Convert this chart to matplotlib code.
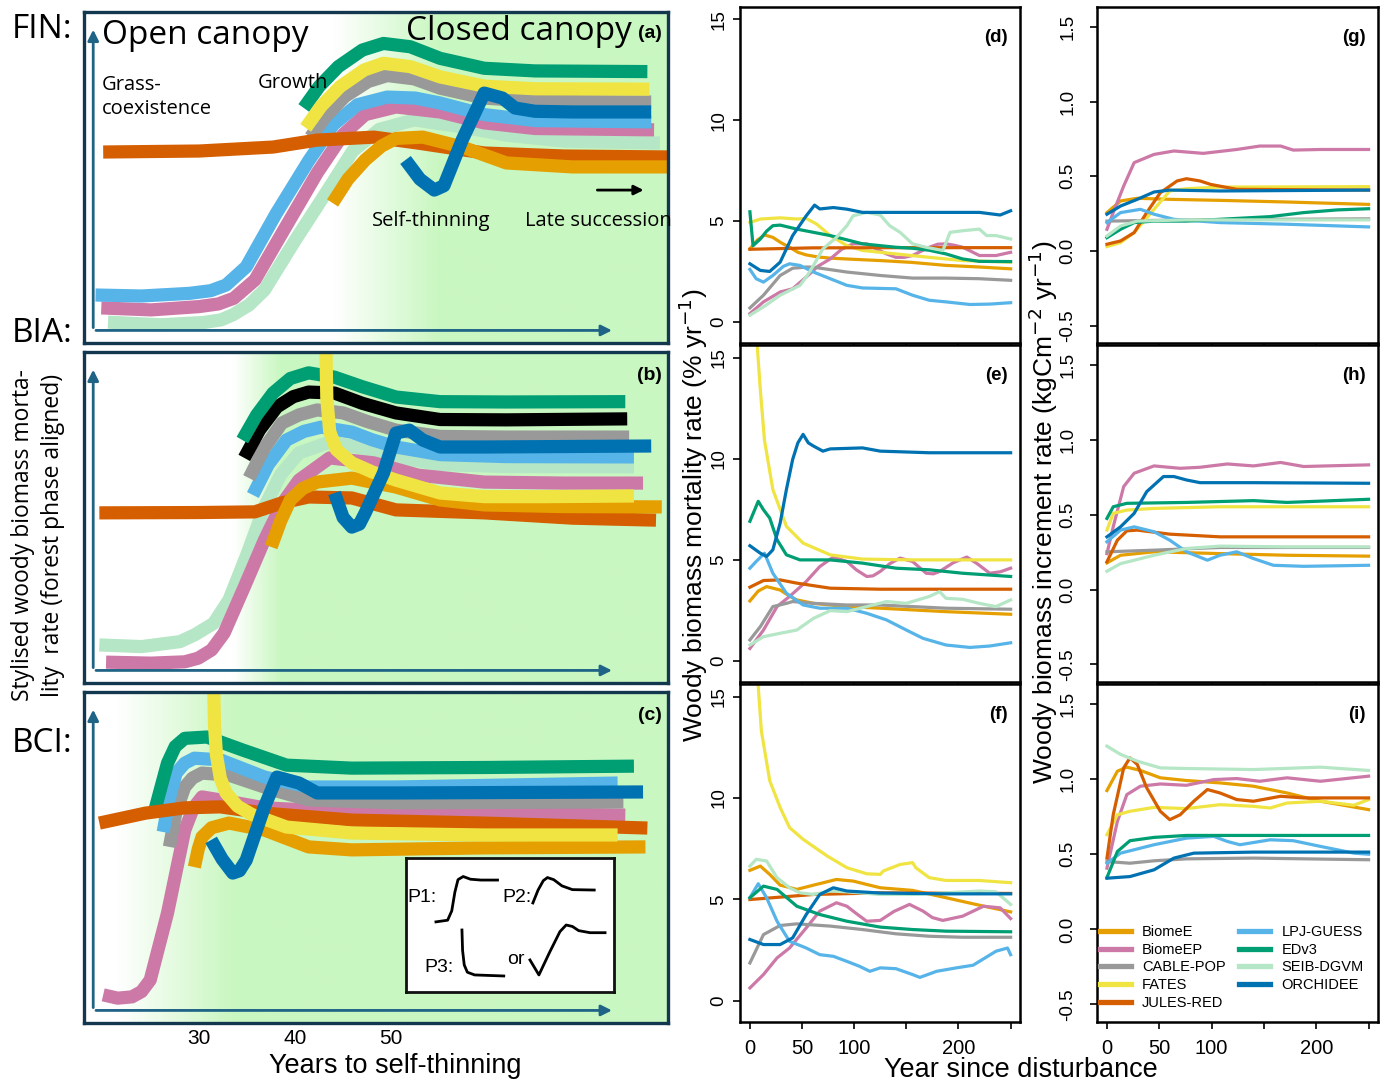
import matplotlib.pyplot as plt
import numpy as np
from matplotlib.colors import to_rgb

plt.rcParams['font.family'] = ['Liberation Sans', 'DejaVu Sans']

# ---------------- models and colours ----------------
models = ['BiomeE', 'BiomeEP', 'CABLE-POP', 'FATES', 'JULES-RED',
          'LPJ-GUESS', 'EDv3', 'SEIB-DGVM', 'ORCHIDEE']
colors = ['#E69F00', '#CC79A7', '#999999', '#F0E442', '#D55E00',
          '#56B4E9', '#009E73', '#B5E6C5', '#0072B2']
col = dict(zip(models, colors))
col['extra'] = '#000000'

# ---------------- stylised panels (years to self-thinning, relative rate 0-10) ----------------
fin_SEIB = [(20.5, 0.63), (26, 0.55), (30.5, 0.62), (32.3, 0.7), (33.5, 0.85), (35.2, 1.15), (36.8, 1.6),
            (40, 3.1), (43.2, 4.53), (46, 5.8), (48.75, 6.45), (52.4, 6.74), (57.4, 6.53), (62, 6.28),
            (68, 6.1), (78, 6.04)]
fin_BiomeEP = [(19.8, 1.06), (25, 1.0), (30, 1.1), (32, 1.18), (33.6, 1.35), (35.8, 1.9), (39, 3.5), (42.3, 5.14),
               (45, 6.3), (47.3, 6.9), (50.5, 7.13), (55.1, 6.98), (59.7, 6.65), (65, 6.48), (77.4, 6.44)]
fin_LPJ = [(19.2, 1.45), (24, 1.42), (29, 1.5), (31.2, 1.58), (32.8, 1.75), (34.9, 2.3), (38, 3.9), (41.4, 5.5),
           (44, 6.6), (46.5, 7.2), (49.6, 7.43), (52.5, 7.4), (55.1, 7.25), (59.7, 6.9), (65, 6.72), (77.1, 6.68)]
fin_CABLE = [(41.6, 6.22), (43.2, 6.85), (45.2, 7.45), (47.6, 7.9), (49.6, 8.08), (52.4, 7.98), (55.1, 7.7),
             (59.7, 7.4), (65, 7.3), (77.1, 7.28)]
fin_EDv3 = [(40.9, 7.1), (42.5, 7.75), (44.5, 8.35), (47, 8.85), (49.2, 9.05), (52, 8.95), (55.1, 8.6),
            (59.7, 8.3), (65, 8.22), (76.7, 8.2)]
fin_FATES = [(41.1, 6.5), (42.7, 7.15), (44.7, 7.75), (47.2, 8.25), (49.2, 8.45), (52, 8.35), (55.1, 8.04),
             (59.7, 7.76), (65, 7.68), (76.9, 7.67)]
fin_JULES = [(20, 5.77), (30, 5.8), (37.7, 5.92), (42.3, 6.13), (48.2, 6.22), (52.8, 6.04), (59.7, 5.74),
             (68, 5.65), (78.9, 5.62)]
fin_BiomeE = [(43.9, 4.23), (45.5, 4.95), (47.3, 5.53), (49, 5.95), (50.5, 6.18), (53.3, 6.22), (57.4, 5.92),
              (62, 5.44), (68.9, 5.32), (78.9, 5.32)]
fin_ORCHIDEE = [(51.5, 5.53), (53, 4.95), (54.5, 4.62), (55.5, 4.75), (57.4, 6.13), (59.7, 7.55), (61.6, 7.4),
                (62.9, 7.1), (65, 7.0), (68.9, 6.98), (77.1, 6.98)]

bia_SEIB = [(19.6, 1.15), (24, 1.1), (28, 1.25), (29.5, 1.45), (31.5, 1.8), (33.1, 2.51), (35, 3.9), (36.8, 5.32),
            (38.5, 6.3), (40.4, 6.95), (43.6, 7.28), (47, 7.1), (50.5, 6.83), (55.1, 6.6), (62, 6.54), (75.3, 6.53)]
bia_BiomeEP = [(20.3, 0.63), (25, 0.6), (28.5, 0.64), (29.9, 0.75), (31.3, 1.0), (32.6, 1.51), (34.7, 2.9),
               (36.8, 4.32), (38.6, 5.4), (40.4, 6.13), (43.6, 6.8), (48.2, 6.65), (52.8, 6.28), (59.7, 6.07),
               (68, 6.04), (76.25, 6.04)]
bia_LPJ = [(35.6, 5.68), (37.2, 6.6), (39.1, 7.34), (40.9, 7.6), (42.7, 7.73), (45.9, 7.58), (48, 7.35),
           (50.5, 7.13), (55.1, 6.9), (62, 6.84), (75.3, 6.83)]
bia_CABLE = [(35.2, 6.19), (36.8, 7.1), (38.6, 7.85), (40.4, 8.1), (42.3, 8.25), (45, 8.16), (47.5, 7.9),
             (50.5, 7.64), (55.1, 7.45), (62, 7.43), (74.8, 7.43)]
bia_extra = [(34.7, 6.8), (36.3, 7.65), (38.1, 8.34), (39.8, 8.65), (41.4, 8.79), (44.1, 8.76), (47, 8.45),
             (50.5, 8.16), (55.1, 7.96), (62, 7.95), (74.6, 7.98)]
bia_EDv3 = [(34.5, 7.34), (36, 8.1), (37.7, 8.76), (39.5, 9.2), (41.4, 9.37), (44.1, 9.24), (47, 8.95),
            (50.5, 8.64), (55.1, 8.5), (62, 8.49), (74.4, 8.5)]
bia_FATES = [(43.2, 10.3), (43.3, 8.6), (43.6, 7.6), (44.3, 7.05), (45.9, 6.65), (48, 6.38), (50.5, 6.13),
             (55.1, 5.74), (59.7, 5.63), (66, 5.63), (75.3, 5.65)]
bia_JULES = [(19.6, 5.14), (30, 5.15), (35.8, 5.17), (38.6, 5.44), (41.4, 5.62), (45.9, 5.59), (50.5, 5.23),
             (59.7, 5.14), (68.9, 4.98), (77.6, 4.92)]
bia_BiomeE = [(37.5, 4.11), (38.5, 4.9), (39.5, 5.53), (40.8, 5.88), (42.3, 6.07), (45.9, 6.19), (50.5, 5.92),
              (55.1, 5.53), (59.7, 5.38), (68, 5.33), (78.2, 5.32)]
bia_ORCHIDEE = [(44.1, 5.74), (45, 5.0), (45.9, 4.71), (46.7, 4.8), (47.3, 5.14), (49.2, 6.34), (50.5, 7.55),
                (51.9, 7.64), (53.3, 7.34), (55.1, 7.13), (59.7, 7.13), (77.1, 7.16)]

bci_BiomeEP = [(20, 0.85), (21.5, 0.75), (23, 0.79), (24, 0.95), (24.9, 1.3), (26.7, 3.32), (28.5, 5.83),
               (29.4, 6.5), (30.3, 6.83), (32.2, 6.74), (36.8, 6.5), (45.9, 6.37), (59.7, 6.34), (74.4, 6.28)]
bci_LPJ = [(26.25, 5.77), (26.9, 6.8), (27.6, 7.55), (28.5, 7.85), (29.5, 8.0), (32.2, 7.95), (36.8, 7.43),
           (41.4, 7.13), (50.5, 7.13), (73.6, 7.25)]
bci_CABLE = [(26.9, 5.32), (27.6, 6.4), (28.5, 7.13), (29.3, 7.4), (30.3, 7.55), (33.1, 7.49), (37.7, 7.04),
             (41.4, 6.74), (50.5, 6.65), (74.2, 6.68)]
bci_EDv3 = [(25.3, 6.34), (26, 7.1), (26.7, 7.85), (27.5, 8.35), (28.5, 8.6), (30.8, 8.64), (34.5, 8.25),
            (39.1, 7.79), (45.9, 7.7), (60, 7.72), (75.3, 7.76)]
bci_JULES = [(19.6, 6.04), (24.4, 6.34), (28.5, 6.5), (32.2, 6.53), (36.8, 6.34), (45.9, 6.13), (59.7, 6.04),
             (76.7, 5.89)]
bci_BiomeE = [(29.5, 4.71), (29.9, 5.25), (30.3, 5.62), (31.3, 5.9), (33.1, 6.04), (36.8, 5.83), (41.4, 5.32),
              (45.9, 5.23), (59.7, 5.29), (76.5, 5.32)]
bci_FATES = [(31.5, 10.3), (31.6, 9.0), (31.8, 8.1), (32.2, 7.4), (32.8, 6.95), (34, 6.55), (35.5, 6.3),
             (39.1, 5.92), (45.9, 5.74), (59.7, 5.68), (73.6, 5.68)]
bci_ORCHIDEE = [(31.25, 5.53), (32.4, 4.95), (33.5, 4.53), (34.2, 4.6), (34.9, 4.92), (36.8, 6.53), (38.1, 7.43),
                (40.4, 7.25), (42.3, 6.95), (50.5, 6.95), (76.25, 6.98)]

# inset pattern sketches (arbitrary units)
p1 = [(1.44, 3.37), (2.0, 3.45), (2.2, 3.9), (2.35, 4.8), (2.5, 5.4), (2.75, 5.55), (3.1, 5.42), (3.6, 5.38), (4.4, 5.38)]
p2 = [(6.1, 4.28), (6.35, 4.9), (6.6, 5.35), (6.8, 5.5), (7.1, 5.4), (7.5, 5.1), (8.0, 4.92), (9.05, 4.9)]
p3 = [(2.69, 2.98), (2.72, 2.0), (2.8, 1.3), (2.95, 0.95), (3.3, 0.82), (4.7, 0.77)]
p3b = [(5.96, 1.54), (6.39, 0.82), (6.9, 1.9), (7.4, 2.9), (7.7, 3.22), (8.0, 3.15), (8.3, 2.95), (8.85, 2.85), (9.57, 2.85)]

# ---------------- model output: year since disturbance vs rate ----------------
# (d) FIN mortality (% / yr)
d_BiomeE = [(0, 3.62), (7, 4.05), (14, 4.31), (22, 4.19), (30, 3.92), (38, 3.7), (46, 3.45), (54, 3.32), (65, 3.22),
            (77, 3.16), (100, 3.1), (125, 3.04), (155, 2.95), (188, 2.8), (220, 2.72), (250, 2.63)]
d_BiomeEP = [(0, 0.41), (13, 0.99), (29, 1.48), (41, 1.64), (54, 2.22), (65, 2.75), (77, 3.12), (88, 3.6), (99, 3.87),
             (112, 3.87), (122, 3.6), (131, 3.37), (140, 3.2), (148, 3.2), (156, 3.29), (164, 3.5), (172, 3.7),
             (180, 3.85), (188, 3.87), (196, 3.8), (204, 3.7), (212, 3.5), (220, 3.29), (236, 3.29), (250, 3.45)]
d_CABLE = [(0, 0.69), (13, 1.32), (29, 2.3), (41, 2.66), (55, 2.72), (61, 2.71), (93, 2.47), (125, 2.3), (156, 2.17),
           (188, 2.17), (220, 2.14), (250, 2.06)]
d_FATES = [(0, 4.93), (10, 5.1), (29, 5.16), (45, 5.1), (54, 5.13), (64, 4.85), (77, 4.28), (93, 3.78), (108, 3.54),
           (140, 3.37), (172, 3.2), (204, 3.04), (250, 2.96)]
d_JULES = [(0, 3.6), (60, 3.67), (150, 3.68), (250, 3.68)]
d_LPJ = [(0, 2.6), (6, 2.14), (13, 1.97), (22, 2.3), (32, 2.75), (38, 2.88), (48, 2.8), (61, 2.47), (77, 2.14),
         (93, 1.81), (108, 1.68), (140, 1.64), (156, 1.32), (172, 1.07), (188, 0.99), (211, 0.86), (230, 0.88), (250, 0.95)]
d_EDv3 = [(0, 5.46), (3, 3.78), (10, 4.11), (16, 4.5), (22, 4.77), (29, 4.8), (45, 4.6), (77, 4.28), (108, 3.87),
          (140, 3.7), (156, 3.65), (172, 3.55), (188, 3.37), (204, 3.12), (220, 3.0), (250, 2.99)]
d_SEIB = [(0, 0.33), (13, 0.74), (29, 1.32), (48, 1.81), (55, 2.3), (61, 2.8), (70, 3.62), (83, 4.19), (93, 4.77),
          (99, 5.26), (112, 5.43), (125, 5.3), (134, 4.77), (144, 4.44), (156, 3.87), (169, 3.7), (185, 3.54),
          (192, 4.44), (204, 4.52), (220, 4.6), (227, 4.28), (236, 4.28), (250, 4.11)]
d_ORCHIDEE = [(0, 2.88), (10, 2.55), (19, 2.5), (29, 2.96), (41, 4.28), (54, 5.26), (62, 5.79), (67, 5.6), (80, 5.67),
              (93, 5.59), (108, 5.43), (156, 5.43), (220, 5.43), (240, 5.3), (250, 5.51)]

# (e) BIA mortality
e_BiomeE = [(0, 2.96), (8, 3.45), (16, 3.67), (29, 3.5), (38, 3.2), (45, 3.01), (61, 2.84), (93, 2.68), (125, 2.6),
            (188, 2.43), (250, 2.3)]
e_BiomeEP = [(0, 0.61), (13, 1.52), (26, 2.68), (38, 3.18), (54, 3.92), (67, 4.66), (80, 5.13), (93, 4.91), (102, 4.5),
             (112, 4.17), (118, 4.2), (125, 4.42), (134, 4.8), (144, 5.08), (156, 4.91), (169, 4.33), (176, 4.3),
             (182, 4.42), (195, 4.85), (208, 5.13), (218, 4.8), (230, 4.33), (240, 4.4), (250, 4.58)]
e_CABLE = [(0, 1.03), (10, 1.69), (22, 2.68), (35, 2.84), (41, 2.93), (61, 2.84), (93, 2.76), (125, 2.76), (156, 2.68),
           (188, 2.6), (250, 2.55)]
e_FATES = [(4, 18.0), (7, 15.6), (10, 13.4), (14, 10.9), (22, 8.47), (35, 6.65), (51, 5.82), (77, 5.24), (108, 5.03),
           (156, 4.99), (250, 4.99)]
e_JULES = [(0, 3.64), (13, 3.97), (29, 4.0), (45, 3.84), (77, 3.59), (125, 3.54), (250, 3.54)]
e_LPJ = [(0, 4.58), (6, 4.91), (14, 5.32), (22, 4.33), (35, 3.34), (51, 2.76), (67, 2.6), (93, 2.6), (112, 2.35),
         (131, 2.02), (150, 1.52), (166, 1.11), (188, 0.78), (211, 0.66), (230, 0.73), (250, 0.89)]
e_EDv3 = [(0, 6.9), (8, 7.89), (13, 7.47), (19, 7.06), (26, 5.99), (35, 5.24), (48, 4.99), (77, 4.99), (108, 4.83),
          (140, 4.58), (172, 4.5), (204, 4.33), (250, 4.17)]
e_SEIB = [(0, 0.78), (13, 1.19), (29, 1.36), (45, 1.52), (61, 2.1), (77, 2.48), (93, 2.43), (112, 2.68), (131, 2.93),
          (150, 2.84), (172, 3.18), (182, 3.42), (188, 3.09), (204, 3.04), (220, 2.84), (236, 2.68), (250, 3.01)]
e_ORCHIDEE = [(0, 5.69), (10, 5.32), (16, 5.16), (22, 5.49), (29, 6.81), (35, 8.47), (41, 9.96), (46, 10.78),
              (51, 11.2), (56, 10.78), (61, 10.62), (70, 10.37), (77, 10.48), (108, 10.53), (125, 10.37),
              (172, 10.29), (250, 10.29)]

# (f) BCI mortality
f_BiomeE = [(0, 6.43), (10, 6.64), (19, 6.23), (29, 5.7), (45, 5.49), (61, 5.7), (83, 5.98), (99, 5.9), (125, 5.57),
            (156, 5.44), (188, 5.08), (220, 4.71), (250, 4.38)]
f_BiomeEP = [(0, 0.63), (13, 1.29), (26, 2.11), (38, 2.6), (54, 3.59), (67, 4.42), (83, 4.83), (93, 4.66), (102, 4.3),
             (112, 3.92), (125, 3.96), (138, 4.4), (153, 4.75), (166, 4.42), (175, 4.1), (185, 3.96), (204, 4.17),
             (224, 4.66), (240, 4.58), (250, 4.05)]
f_CABLE = [(0, 1.86), (13, 3.26), (29, 3.71), (45, 3.79), (77, 3.68), (108, 3.51), (140, 3.3), (172, 3.18),
           (204, 3.13), (250, 3.13)]
f_FATES = [(5, 17.0), (8, 15.5), (11, 13.3), (19, 10.85), (29, 9.53), (38, 8.54), (51, 7.96), (74, 7.14), (93, 6.56),
           (112, 6.26), (125, 6.23), (128, 6.4), (144, 6.72), (156, 6.81), (159, 6.56), (172, 6.07), (188, 5.93),
           (220, 5.93), (250, 5.82)]
f_JULES = [(0, 4.99), (61, 5.24), (125, 5.32), (250, 5.29)]
f_LPJ = [(0, 5.08), (8, 5.77), (16, 5.08), (26, 3.92), (38, 2.93), (54, 2.6), (67, 2.27), (80, 2.19), (93, 1.94),
         (105, 1.7), (115, 1.45), (125, 1.62), (140, 1.58), (156, 1.29), (163, 1.15), (179, 1.45), (198, 1.62),
         (214, 1.75), (236, 2.44), (247, 2.6), (250, 2.27)]
f_EDv3 = [(0, 5.08), (13, 5.65), (26, 5.49), (45, 4.66), (67, 4.25), (93, 3.92), (125, 3.63), (156, 3.51),
          (188, 3.43), (250, 3.4)]
f_SEIB = [(0, 6.64), (6, 6.97), (16, 6.89), (26, 6.07), (38, 5.57), (48, 5.32), (61, 5.24), (77, 5.41), (93, 5.37),
          (125, 5.24), (156, 5.24), (188, 5.32), (220, 5.41), (236, 5.37), (250, 4.75)]
f_ORCHIDEE = [(0, 3.02), (13, 2.77), (29, 2.77), (41, 3.1), (54, 4.25), (67, 5.24), (80, 5.57), (93, 5.41),
              (125, 5.31), (188, 5.27), (250, 5.27)]

# (g) FIN increment (kgC m-2 yr-1)
g_BiomeE = [(0, 0.257), (13, 0.335), (29, 0.353), (60, 0.346), (108, 0.339), (172, 0.328), (250, 0.312)]
g_BiomeEP = [(0, 0.145), (6, 0.257), (16, 0.435), (26, 0.592), (45, 0.647), (64, 0.67), (92, 0.654), (124, 0.68),
             (146, 0.703), (166, 0.703), (178, 0.676), (204, 0.68), (250, 0.68)]
g_CABLE = [(0, 0.2), (100, 0.21), (250, 0.215)]
g_FATES = [(0, 0.029), (13, 0.056), (26, 0.123), (45, 0.279), (60, 0.402), (76, 0.417), (108, 0.428), (250, 0.431)]
g_JULES = [(0, 0.045), (13, 0.067), (26, 0.123), (38, 0.257), (51, 0.39), (67, 0.469), (76, 0.484), (89, 0.469),
           (99, 0.446), (124, 0.413), (250, 0.408)]
g_LPJ = [(0, 0.19), (13, 0.257), (32, 0.279), (45, 0.246), (64, 0.212), (108, 0.19), (172, 0.179), (250, 0.161)]
g_EDv3 = [(0, 0.089), (13, 0.145), (26, 0.19), (45, 0.2), (76, 0.2), (108, 0.212), (156, 0.23), (188, 0.257),
          (220, 0.275), (250, 0.283)]
g_SEIB = [(0, 0.1), (13, 0.167), (29, 0.2), (76, 0.208), (250, 0.208)]
g_ORCHIDEE = [(0, 0.246), (13, 0.301), (29, 0.346), (45, 0.395), (60, 0.408), (108, 0.402), (250, 0.408)]

# (h) BIA increment
h_BiomeE = [(0, 0.179), (13, 0.23), (45, 0.253), (108, 0.241), (172, 0.23), (250, 0.224)]
h_BiomeEP = [(0, 0.241), (6, 0.42), (16, 0.689), (26, 0.778), (45, 0.827), (70, 0.811), (89, 0.818), (115, 0.84),
             (140, 0.827), (166, 0.85), (188, 0.823), (210, 0.827), (250, 0.834)]
h_CABLE = [(0, 0.253), (45, 0.264), (108, 0.282), (250, 0.282)]
h_FATES = [(0, 0.398), (6, 0.51), (19, 0.532), (45, 0.543), (108, 0.554), (250, 0.554)]
h_JULES = [(0, 0.186), (10, 0.331), (19, 0.393), (29, 0.398), (60, 0.371), (108, 0.353), (250, 0.353)]
h_LPJ = [(0, 0.32), (13, 0.398), (26, 0.42), (45, 0.387), (60, 0.331), (76, 0.253), (96, 0.197), (108, 0.23),
         (124, 0.253), (140, 0.208), (159, 0.163), (188, 0.156), (250, 0.163)]
h_EDv3 = [(0, 0.476), (6, 0.554), (19, 0.577), (76, 0.583), (140, 0.595), (172, 0.583), (250, 0.604)]
h_SEIB = [(0, 0.123), (13, 0.174), (45, 0.23), (76, 0.275), (108, 0.291), (172, 0.286), (250, 0.286)]
h_ORCHIDEE = [(0, 0.353), (13, 0.42), (26, 0.51), (38, 0.655), (54, 0.756), (64, 0.756), (76, 0.733), (89, 0.715),
              (140, 0.715), (250, 0.711)]

# (i) BCI increment
i_BiomeE = [(0, 0.925), (10, 1.054), (19, 1.081), (32, 1.059), (51, 1.01), (76, 0.992), (108, 0.976), (140, 0.954),
            (172, 0.909), (204, 0.854), (250, 0.798)]
i_BiomeEP = [(0, 0.408), (10, 0.72), (19, 0.898), (32, 0.954), (51, 0.969), (76, 0.96), (102, 0.998), (124, 1.005),
             (146, 0.987), (172, 1.01), (204, 0.987), (250, 1.021)]
i_CABLE = [(0, 0.452), (22, 0.441), (45, 0.457), (76, 0.47), (140, 0.475), (250, 0.464)]
i_FATES = [(0, 0.631), (10, 0.764), (22, 0.787), (45, 0.813), (76, 0.805), (108, 0.831), (140, 0.82), (156, 0.809),
           (172, 0.842), (204, 0.854), (236, 0.827), (250, 0.865)]
i_JULES = [(0, 0.475), (6, 0.764), (16, 1.076), (22, 1.143), (29, 1.099), (38, 0.943), (51, 0.787), (60, 0.731),
           (70, 0.764), (83, 0.854), (96, 0.932), (108, 0.909), (124, 0.865), (140, 0.854), (166, 0.887),
           (188, 0.876), (250, 0.876)]
i_LPJ = [(0, 0.441), (13, 0.508), (45, 0.564), (76, 0.608), (102, 0.62), (115, 0.586), (127, 0.564), (156, 0.597),
         (178, 0.591), (204, 0.553), (236, 0.508), (250, 0.501)]
i_EDv3 = [(0, 0.345), (10, 0.519), (22, 0.591), (45, 0.613), (76, 0.626), (250, 0.626)]
i_SEIB = [(0, 1.221), (13, 1.166), (29, 1.121), (51, 1.076), (76, 1.072), (140, 1.065), (204, 1.081), (250, 1.059)]
i_ORCHIDEE = [(0, 0.341), (22, 0.352), (45, 0.397), (64, 0.475), (83, 0.508), (140, 0.515), (250, 0.515)]

W, H = 1389, 1082
fig = plt.figure(figsize=(W / 100, H / 100), dpi=100)

def box(x0, y0, x1, y1):
    # pixel box (top-left origin) -> figure fraction rect
    return [x0 / W, 1 - y1 / H, (x1 - x0) / W, (y1 - y0) / H]

NAVY = '#12374e'
ARROW = '#1f6386'
GREEN = np.array(to_rgb('#c9f7c1'))
LFONT = ['Open Sans', 'DejaVu Sans']


def stylised(rect, curves, g0, g1, tag):
    ax = fig.add_axes(rect)
    ax.set_xlim(18, 78.85)
    ax.set_ylim(0, 10)
    xs = np.linspace(18, 78.85, 400)
    t = np.clip((xs - g0) / (g1 - g0), 0, 1)[:, None]
    img = (1 - t) * np.ones(3) + t * GREEN
    ax.imshow(img[None, :, :], extent=[18, 78.85, 0, 10], aspect='auto', zorder=0)
    for pts, c in curves:
        x, y = zip(*pts)
        ax.plot(x, y, color=c, lw=9.5, solid_capstyle='butt', solid_joinstyle='round', zorder=2)
    ax.annotate('', xy=(18.96, 9.55), xytext=(18.96, 0.38),
                arrowprops=dict(arrowstyle='-|>', color=ARROW, lw=2, mutation_scale=16), zorder=3)
    ax.annotate('', xy=(73.3, 0.38), xytext=(18.96, 0.38),
                arrowprops=dict(arrowstyle='-|>', color=ARROW, lw=2, mutation_scale=16), zorder=3)
    ax.text(78.2, 9.3, tag, ha='right', va='center', fontsize=14, fontweight='bold')
    ax.set_xticks([])
    ax.set_yticks([])
    for s in ax.spines.values():
        s.set_color(NAVY)
        s.set_linewidth(2.4)
    return ax


ax_a = stylised(box(84, 12, 668, 343),
                [(fin_SEIB, col['SEIB-DGVM']), (fin_BiomeEP, col['BiomeEP']), (fin_LPJ, col['LPJ-GUESS']),
                 (fin_CABLE, col['CABLE-POP']), (fin_EDv3, col['EDv3']), (fin_FATES, col['FATES']),
                 (fin_JULES, col['JULES-RED']), (fin_BiomeE, col['BiomeE']), (fin_ORCHIDEE, col['ORCHIDEE'])],
                44, 55, '(a)')
ax_a.texts[-1].set_y(9.35)
ax_a.text(19.9, 9.3, 'Open canopy', fontsize=24, family=LFONT, va='center')
ax_a.text(75.1, 9.4, 'Closed canopy', fontsize=24, family=LFONT, va='center', ha='right')
ax_a.text(19.9, 8.1, 'Grass-\ncoexistence', fontsize=14.5, family=LFONT, va='top', linespacing=1.3)
ax_a.text(36.1, 7.85, 'Growth', fontsize=14.5, family=LFONT, va='center')
ax_a.text(48.0, 3.7, 'Self-thinning', fontsize=14.5, family=LFONT, va='center')
ax_a.text(64.0, 3.7, 'Late succession', fontsize=14.5, family=LFONT, va='center')
ax_a.annotate('', xy=(76.6, 4.62), xytext=(71.2, 4.62),
              arrowprops=dict(arrowstyle='-|>', color='black', lw=2, mutation_scale=14))

ax_b = stylised(box(84, 352, 668, 683),
                [(bia_SEIB, col['SEIB-DGVM']), (bia_BiomeEP, col['BiomeEP']), (bia_LPJ, col['LPJ-GUESS']),
                 (bia_CABLE, col['CABLE-POP']), (bia_extra, col['extra']), (bia_EDv3, col['EDv3']),
                 (bia_JULES, col['JULES-RED']), (bia_BiomeE, col['BiomeE']), (bia_FATES, col['FATES']),
                 (bia_ORCHIDEE, col['ORCHIDEE'])],
                33.5, 38.5, '(b)')

ax_c = stylised(box(84, 692, 668, 1023),
                [(bci_BiomeEP, col['BiomeEP']), (bci_CABLE, col['CABLE-POP']), (bci_LPJ, col['LPJ-GUESS']),
                 (bci_EDv3, col['EDv3']), (bci_JULES, col['JULES-RED']), (bci_BiomeE, col['BiomeE']),
                 (bci_FATES, col['FATES']), (bci_ORCHIDEE, col['ORCHIDEE'])],
                21.5, 33.5, '(c)')
ax_c.set_xticks([30, 40, 50])
ax_c.set_xticklabels(['30', '40', '50'], fontsize=15)
ax_c.tick_params(axis='x', length=0, pad=4)
fig.text(395 / W, 1 - 1066 / H, 'Years to self-thinning', fontsize=19.5, ha='center', va='center')

# inset with the pattern types
ins = fig.add_axes(box(406, 858, 614, 992))
ins.set_xlim(0, 10)
ins.set_ylim(0, 6.44)
for pts in (p1, p2, p3, p3b):
    x, y = zip(*pts)
    ins.plot(x, y, color='black', lw=2)
ins.text(0.75, 4.55, 'P1:', fontsize=14, ha='center', va='center')
ins.text(5.35, 4.55, 'P2:', fontsize=14, ha='center', va='center')
ins.text(1.6, 1.2, 'P3:', fontsize=14, ha='center', va='center')
ins.text(5.3, 1.55, 'or', fontsize=14, ha='center', va='center')
ins.set_xticks([])
ins.set_yticks([])
for s in ins.spines.values():
    s.set_color('#111111')
    s.set_linewidth(2)

fig.text(12 / W, 1 - 30 / H, 'FIN:', fontsize=24, family=LFONT, va='center')
fig.text(12 / W, 1 - 333 / H, 'BIA:', fontsize=24, family=LFONT, va='center')
fig.text(12 / W, 1 - 744 / H, 'BCI:', fontsize=24, family=LFONT, va='center')
fig.text(38 / W, 1 - 535 / H, 'Stylised woody biomass morta-\nlity  rate (forest phase aligned)',
         rotation=90, fontsize=16.5, family=LFONT, ha='center', va='center', linespacing=1.3,
         multialignment='center')

# ---------------- model panels ----------------
mort = {'d': [d_BiomeE, d_BiomeEP, d_CABLE, d_FATES, d_JULES, d_LPJ, d_EDv3, d_SEIB, d_ORCHIDEE],
        'e': [e_BiomeE, e_BiomeEP, e_CABLE, e_FATES, e_JULES, e_LPJ, e_EDv3, e_SEIB, e_ORCHIDEE],
        'f': [f_BiomeE, f_BiomeEP, f_CABLE, f_FATES, f_JULES, f_LPJ, f_EDv3, f_SEIB, f_ORCHIDEE]}
incr = {'g': [g_BiomeE, g_BiomeEP, g_CABLE, g_FATES, g_JULES, g_LPJ, g_EDv3, g_SEIB, g_ORCHIDEE],
        'h': [h_BiomeE, h_BiomeEP, h_CABLE, h_FATES, h_JULES, h_LPJ, h_EDv3, h_SEIB, h_ORCHIDEE],
        'i': [i_BiomeE, i_BiomeEP, i_CABLE, i_FATES, i_JULES, i_LPJ, i_EDv3, i_SEIB, i_ORCHIDEE]}

rows = [(7, 343), (345, 682), (684, 1022)]


def model_panel(rect, series, ylim, yticks, ylabels, tag, bottom, ypad):
    ax = fig.add_axes(rect)
    for pts, c, m in zip(series, colors, models):
        x, y = zip(*pts)
        ax.plot(x, y, color=c, lw=2.3, label=m)
    ax.set_xlim(-9.5, 259)
    ax.set_ylim(*ylim)
    ax.set_yticks(yticks)
    ax.set_yticklabels(ylabels, rotation=90, va='center', fontsize=13.5)
    ax.set_xticks([0, 50, 100, 150, 200, 250])
    if bottom:
        ax.set_xticklabels(['0', '50', '100', '', '200', ''], fontsize=14.5)
    else:
        ax.set_xticklabels([])
    ax.tick_params(axis='y', length=5, width=1.2, pad=ypad)
    ax.tick_params(axis='x', length=5, width=1.2, pad=7)
    for s in ax.spines.values():
        s.set_linewidth(1.8)
    ax.text(0.955, 0.91, tag, transform=ax.transAxes, ha='right', va='center',
            fontsize=13.5, fontweight='bold')
    return ax


for (tag, series), (y0, y1) in zip(mort.items(), rows):
    model_panel(box(740, y0, 1020, y1), series, (-1.05, 15.62), [0, 5, 10, 15],
                ['0', '5', '10', '15'], '(' + tag + ')', tag == 'f', 4)

for (tag, series), (y0, y1) in zip(incr.items(), rows):
    ax = model_panel(box(1097, y0, 1378, y1), series, (-0.617, 1.635), [-0.5, 0, 0.5, 1.0, 1.5],
                     ['-0.5', '0.0', '0.5', '1.0', '1.5'], '(' + tag + ')', tag == 'i', 10)
    if tag == 'i':
        ax.legend(loc='upper left', bbox_to_anchor=(0.0, 0.295), ncol=2, frameon=False,
                  fontsize=10.5, handlelength=2.1, handletextpad=0.8, columnspacing=0.9,
                  labelspacing=0.25, borderpad=0, borderaxespad=0.2)
        for ln in ax.get_legend().get_lines():
            ln.set_linewidth(3.8)

fig.text(693 / W, 1 - 515 / H, 'Woody biomass mortality rate (% yr$^{-1}$)', rotation=90,
         fontsize=19, ha='center', va='center')
fig.text(1043 / W, 1 - 512 / H, 'Woody biomass increment rate (kgCm$^{-2}$ yr$^{-1}$)', rotation=90,
         fontsize=19, ha='center', va='center')
fig.text(1021 / W, 1 - 1077 / H, 'Year since disturbance', fontsize=19.5, ha='center', va='baseline')

fig.savefig('out.png', dpi=100)
